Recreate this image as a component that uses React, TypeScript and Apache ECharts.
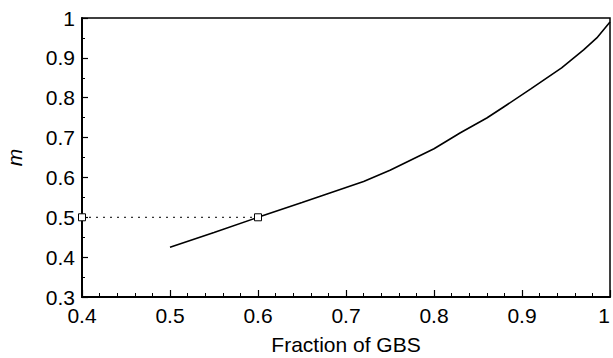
import React, { useEffect, useRef } from "react";
import * as echarts from "echarts";

const gbsFraction = [0.5, 0.55, 0.6, 0.65, 0.7, 0.72, 0.75, 0.8, 0.83, 0.86, 0.88, 0.91, 0.945, 0.97, 0.985, 1.0];
const mValues = [0.425, 0.462, 0.5, 0.537, 0.575, 0.59, 0.618, 0.672, 0.712, 0.749, 0.778, 0.822, 0.875, 0.92, 0.95, 0.99];
const guideX = [0.4, 0.6];
const guideY = [0.5, 0.5];
const xAxisName = "Fraction of GBS";
const yAxisName = "m";

export default function App() {
  const ref = useRef<HTMLDivElement>(null);
  useEffect(() => {
    if (!ref.current) return;
    const chart = echarts.init(ref.current, null, { renderer: "svg" });
    const font = "'Liberation Sans', Arial, sans-serif";
    chart.setOption({
      animation: false,
      backgroundColor: "#ffffff",
      grid: {
        left: 82,
        right: 3,
        top: 18,
        bottom: 61,
        containLabel: false,
        outerBoundsMode: "none",
        show: true,
        borderColor: "#000",
        borderWidth: 1.5,
        backgroundColor: "transparent",
      },
      xAxis: {
        type: "value",
        min: 0.4,
        max: 1,
        interval: 0.1,
        name: xAxisName,
        nameLocation: "middle",
        nameGap: 37,
        nameTextStyle: { fontFamily: font, fontSize: 21, color: "#000" },
        axisLine: { show: true, onZero: false, lineStyle: { color: "#000", width: 2 } },
        axisTick: { show: true, inside: true, length: 7, lineStyle: { color: "#000", width: 1.2 } },
        minorTick: { show: true, splitNumber: 5, length: 4, lineStyle: { color: "#000", width: 1 } },
        splitLine: { show: false },
        axisLabel: { fontFamily: font, fontSize: 21, color: "#000", margin: 8, alignMaxLabel: "right" },
      },
      yAxis: {
        type: "value",
        min: 0.3,
        max: 1,
        interval: 0.1,
        name: yAxisName,
        nameLocation: "middle",
        nameGap: 57,
        nameTextStyle: { fontFamily: font, fontSize: 21, fontStyle: "italic", color: "#000" },
        axisLine: { show: true, onZero: false, lineStyle: { color: "#000", width: 2 } },
        axisTick: { show: true, inside: true, length: 6, lineStyle: { color: "#000", width: 1.2 } },
        minorTick: { show: true, splitNumber: 2, length: 3, lineStyle: { color: "#000", width: 1 } },
        splitLine: { show: false },
        axisLabel: { fontFamily: font, fontSize: 21, color: "#000", margin: 7 },
      },
      series: [
        {
          type: "line",
          data: gbsFraction.map((x, i) => [x, mValues[i]]),
          showSymbol: false,
          symbol: "none",
          lineStyle: { color: "#000", width: 1.6 },
          z: 3,
        },
        {
          type: "line",
          data: guideX.map((x, i) => [x, guideY[i]]),
          symbol: "rect",
          symbolSize: 7,
          showSymbol: true,
          itemStyle: { color: "#fff", borderColor: "#000", borderWidth: 1 },
          lineStyle: { color: "#000", width: 1, type: [2, 5] },
          z: 4,
        },
      ],
    });
    return () => chart.dispose();
  }, []);
  return (
    <div
      ref={ref}
      style={{ position: "fixed", left: 0, top: 0, width: 613, height: 358, background: "#fff" }}
    />
  );
}
